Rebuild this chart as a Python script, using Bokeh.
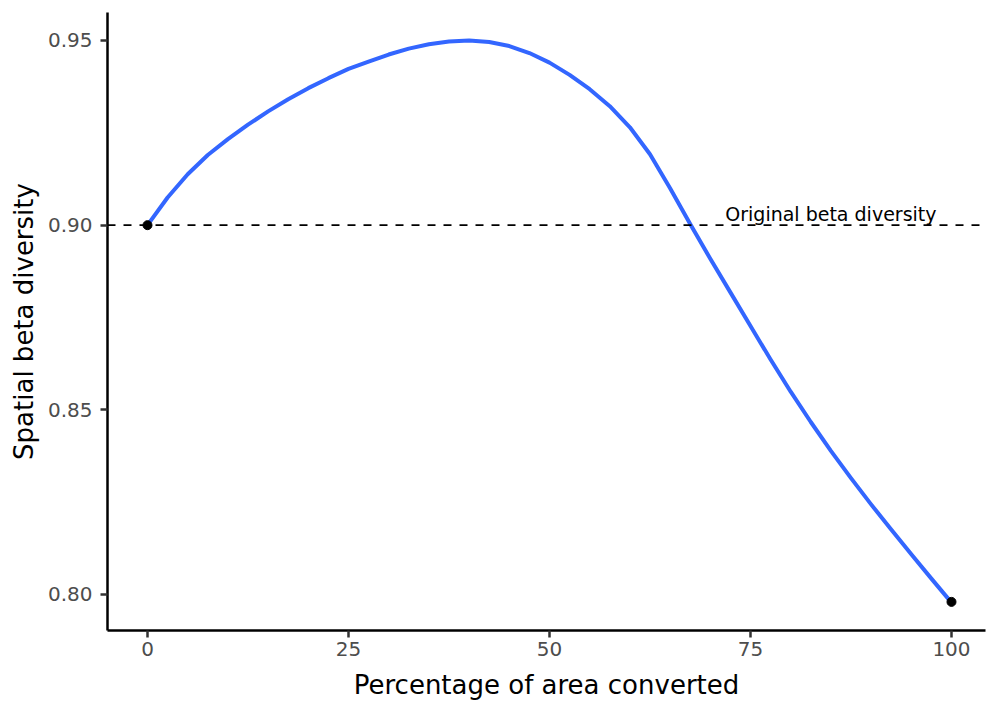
from bokeh.plotting import figure
from bokeh.models import Range1d, FixedTicker, Span, NumeralTickFormatter
from bokeh.embed import file_html
from bokeh.resources import INLINE
from bokeh.core.properties import value

# ---- data ----
pct = [0, 2.5, 5, 7.5, 10, 12.5, 15, 17.5, 20, 22.5, 25, 27.5, 30, 32.5, 35,
       37.5, 40, 42.5, 45, 47.5, 50, 52.5, 55, 57.5, 60, 62.5, 65, 67.5, 70,
       72.5, 75, 77.5, 80, 82.5, 85, 87.5, 90, 92.5, 95, 97.5, 100]
beta = [0.9000, 0.9075, 0.9138, 0.9190, 0.9233, 0.9272, 0.9308, 0.9341, 0.9371,
        0.9398, 0.9423, 0.9443, 0.9462, 0.9478, 0.9490, 0.9497, 0.9500, 0.9496,
        0.9485, 0.9466, 0.9440, 0.9407, 0.9368, 0.9322, 0.9265, 0.9192, 0.9100,
        0.9003, 0.8909, 0.8818, 0.8727, 0.8636, 0.8549, 0.8467, 0.8389, 0.8315,
        0.8244, 0.8176, 0.8109, 0.8043, 0.7978]
end_pct = [0, 100]
end_beta = [0.900, 0.798]
original_beta = 0.90
label_pct = 85
label_text = "Original beta diversity"
x_ticks = [0, 25, 50, 75, 100]
y_ticks = [0.80, 0.85, 0.90, 0.95]

FONT = "DejaVu Sans"

p = figure(width=987, height=703, frame_width=878, frame_height=618,
           output_backend="svg", toolbar_location=None,
           x_range=Range1d(-4.975, 104.23), y_range=Range1d(0.79025, 0.95758),
           min_border_left=107, min_border_top=12, min_border_right=2,
           min_border_bottom=73, background_fill_color="white",
           border_fill_color="white")
p.outline_line_color = None
p.xgrid.visible = False
p.ygrid.visible = False

# reference line
p.add_layout(Span(location=original_beta, dimension="width", line_color="black",
                  line_width=1.8, line_dash="8 8"))

p.line(pct, beta, line_color="#3366FF", line_width=4, line_join="round")
p.scatter(end_pct, end_beta, size=9, color="black")

p.text(x=[label_pct], y=[original_beta], text=[label_text],
       text_font=value(FONT), text_font_size="19px", text_color="black",
       text_align="center", text_baseline="bottom")

for ax in (p.xaxis[0], p.yaxis[0]):
    ax.axis_line_color = "black"
    ax.axis_line_width = 2.5
    ax.major_tick_line_color = "#333333"
    ax.major_tick_line_width = 2.5
    ax.major_tick_out = 7
    ax.major_tick_in = 0
    ax.minor_tick_line_color = None
    ax.major_label_text_font = FONT
    ax.major_label_text_font_size = "20px"
    ax.major_label_text_color = "#4D4D4D"
    ax.axis_label_text_font = FONT
    ax.axis_label_text_font_size = "26px"
    ax.axis_label_text_font_style = "normal"
    ax.axis_label_text_color = "black"

p.xaxis.ticker = FixedTicker(ticks=x_ticks)
p.yaxis.ticker = FixedTicker(ticks=y_ticks)
p.yaxis.formatter = NumeralTickFormatter(format="0.00")
p.xaxis.axis_label = "Percentage of area converted"
p.yaxis.axis_label = "Spatial beta diversity"
p.xaxis.major_label_standoff = 4
p.xaxis.axis_label_standoff = 11
p.yaxis.major_label_standoff = 8
p.yaxis.axis_label_standoff = 6

open("out.html", "w").write(file_html(p, INLINE))
